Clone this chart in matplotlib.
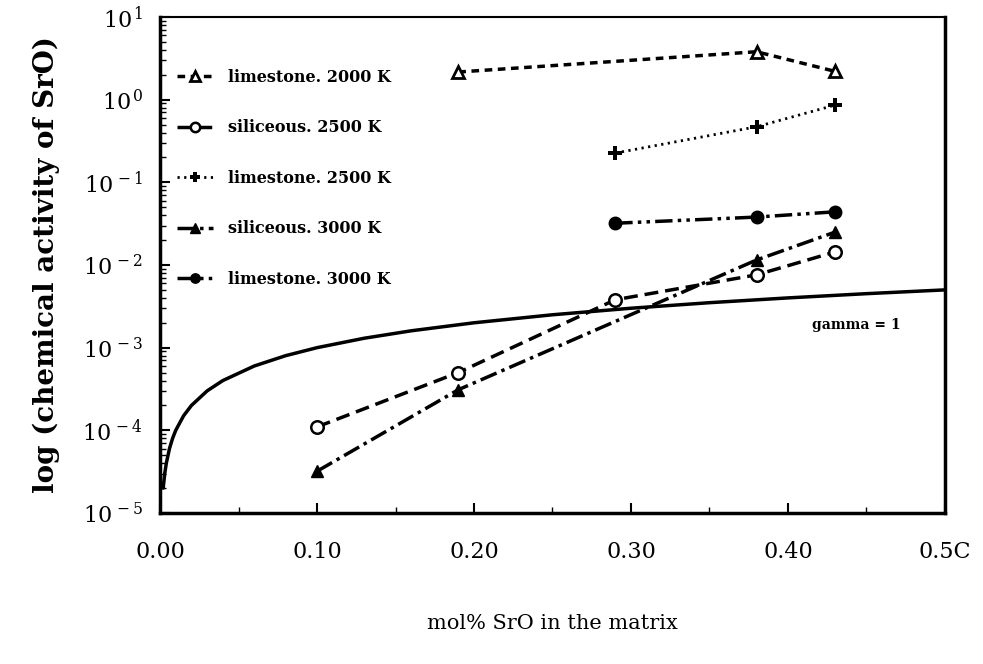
import matplotlib
matplotlib.use('Agg')
import matplotlib.pyplot as plt
from matplotlib.ticker import FixedLocator, FixedFormatter, LogLocator, NullFormatter, MultipleLocator

plt.rcParams['font.family'] = ['DejaVu Serif']
plt.rcParams['mathtext.fontset'] = 'dejavuserif'

# Data
x_lime = [0.19, 0.38, 0.43]
lime_2000 = [2.16, 3.8, 2.2]
x_lime_hi = [0.29, 0.38, 0.43]
lime_2500 = [0.226, 0.47, 0.86]
lime_3000 = [0.032, 0.038, 0.044]

x_sil = [0.10, 0.19, 0.29, 0.38, 0.43]
sil_2500 = [1.1e-4, 5.0e-4, 3.8e-3, 7.6e-3, 0.0144]
x_sil3 = [0.10, 0.19, 0.38, 0.43]
sil_3000 = [3.2e-5, 3.1e-4, 0.0115, 0.025]

# gamma = 1 reference curve
x_gamma = [0.002, 0.003, 0.004, 0.006, 0.008, 0.01, 0.015, 0.02, 0.03, 0.04, 0.06,
           0.08, 0.10, 0.13, 0.16, 0.20, 0.25, 0.30, 0.35, 0.40, 0.45, 0.50]
y_gamma = [2.0e-5, 3.0e-5, 4.0e-5, 6.0e-5, 8.0e-5, 1.0e-4, 1.5e-4, 2.0e-4, 3.0e-4, 4.0e-4, 6.0e-4,
           8.0e-4, 1.0e-3, 1.3e-3, 1.6e-3, 2.0e-3, 2.5e-3, 3.0e-3, 3.5e-3, 4.0e-3, 4.5e-3, 5.0e-3]

ytick_vals = [1e-5, 1e-4, 1e-3, 1e-2, 1e-1, 1e0, 1e1]
ytick_labels = ['10$^{\\,-5}$', '10$^{\\,-4}$', '10$^{\\,-3}$', '10$^{\\,-2}$',
                '10$^{\\,-1}$', '10$^{\\,0}$', '10$^{\\,1}$']
xtick_vals = [0.0, 0.1, 0.2, 0.3, 0.4, 0.5]
xtick_labels = ['0.00', '0.10', '0.20', '0.30', '0.40', '0.5C']

fig = plt.figure(figsize=(9.83, 6.64), dpi=100)
ax = fig.add_axes([0.1628, 0.2274, 0.7985, 0.747])

ax.plot(x_gamma, y_gamma, color='black', lw=2.5, solid_capstyle='round')

ax.plot(x_lime, lime_2000, color='black', lw=2.5, dashes=(2.2, 1.6),
        marker='^', ms=9, mfc='white', mec='black', mew=2, label='limestone. 2000 K')
ax.plot(x_sil, sil_2500, color='black', lw=2.5, dashes=(4, 2),
        marker='o', ms=9, mfc='white', mec='black', mew=1.8, label='siliceous. 2500 K')
ax.plot(x_lime_hi, lime_2500, color='black', lw=2, dashes=(0.8, 1.6),
        marker='P', ms=10, mfc='black', mec='black', mew=0, label='limestone. 2500 K')
ax.plot(x_sil3, sil_3000, color='black', lw=2.5, dashes=(5, 1.5, 1, 1.5),
        marker='^', ms=9, mfc='black', mec='black', label='siliceous. 3000 K')
ax.plot(x_lime_hi, lime_3000, color='black', lw=2.5, dashes=(5, 1.5, 1, 1.5, 1, 1.5),
        marker='o', ms=9, mfc='black', mec='black', label='limestone. 3000 K')

ax.set_yscale('log')
ax.set_xlim(0, 0.5)
ax.set_ylim(1e-5, 1e1)

ax.yaxis.set_major_locator(FixedLocator(ytick_vals))
ax.yaxis.set_major_formatter(FixedFormatter(ytick_labels))
ax.yaxis.set_minor_locator(LogLocator(base=10, subs=range(2, 10)))
ax.yaxis.set_minor_formatter(NullFormatter())
ax.xaxis.set_major_locator(FixedLocator(xtick_vals))
ax.xaxis.set_major_formatter(FixedFormatter(xtick_labels))
ax.xaxis.set_minor_locator(MultipleLocator(0.05))

ax.tick_params(axis='both', which='major', direction='in', length=7, width=1.5,
               labelsize=16, pad=20)
ax.tick_params(axis='both', which='minor', direction='in', length=4, width=1)
ax.tick_params(axis='y', which='major', pad=12)
ax.tick_params(top=False, right=False)

for side in ['left', 'bottom', 'right']:
    ax.spines[side].set_linewidth(2.5)
ax.spines['top'].set_linewidth(1.5)
ax.spines['top'].set_linestyle((0, (1, 0.6)))

ax.set_ylabel('log (chemical activity of SrO)', fontsize=20, fontweight='bold')
ax.yaxis.set_label_coords(-0.128, 0.5)
ax.set_xlabel('mol% SrO in the matrix', fontsize=15, labelpad=37)

ax.text(0.83, 0.38, 'gamma = 1', transform=ax.transAxes, fontsize=10,
        fontweight='bold', ha='left', va='center')

leg = ax.legend(loc='upper left', bbox_to_anchor=(0.009, 0.915), frameon=False,
                fontsize=11.5, handlelength=2.3, handletextpad=0.9, labelspacing=2.1,
                borderaxespad=0.2, markerscale=0.75)
for t in leg.get_texts():
    t.set_fontweight('bold')

fig.savefig('out.png', dpi=100)
